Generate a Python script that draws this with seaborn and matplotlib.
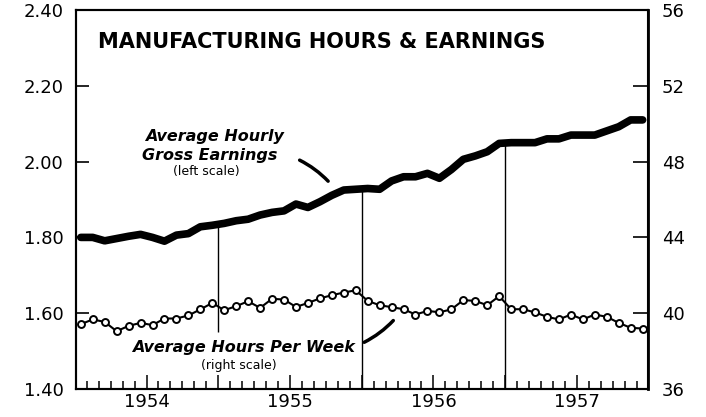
import numpy as np
import pandas as pd
import matplotlib
matplotlib.use('Agg')
import matplotlib.pyplot as plt
import seaborn as sns

sns.set_style('ticks', {'axes.edgecolor': 'black', 'text.color': 'black',
                        'xtick.color': 'black', 'ytick.color': 'black',
                        'axes.labelcolor': 'black'})
plt.rcParams['font.family'] = ['DejaVu Sans']

# monthly data, Jan 1954 - Dec 1957
years = ['1954', '1955', '1956', '1957']
month_idx = np.arange(48)

# average hourly gross earnings, dollars (left scale)
earnings = [1.800, 1.800, 1.791, 1.797, 1.803, 1.808, 1.800, 1.790, 1.806, 1.810, 1.828, 1.832,
            1.837, 1.844, 1.848, 1.859, 1.866, 1.870, 1.888, 1.879, 1.894, 1.911, 1.925, 1.927,
            1.929, 1.927, 1.949, 1.960, 1.960, 1.969, 1.956, 1.979, 2.006, 2.015, 2.026, 2.048,
            2.050, 2.050, 2.050, 2.060, 2.060, 2.070, 2.070, 2.070, 2.081, 2.092, 2.110, 2.110]

# average hours per week (right scale)
hours = [39.42, 39.67, 39.54, 39.05, 39.33, 39.49, 39.37, 39.72, 39.72, 39.88, 40.20, 40.54,
         40.16, 40.37, 40.63, 40.28, 40.76, 40.72, 40.33, 40.54, 40.78, 40.95, 41.09, 41.21,
         40.65, 40.42, 40.32, 40.21, 39.93, 40.12, 40.05, 40.20, 40.69, 40.65, 40.42, 40.90,
         40.21, 40.21, 40.04, 39.81, 39.67, 39.93, 39.67, 39.93, 39.81, 39.49, 39.23, 39.19]

left_ticks = [1.40, 1.60, 1.80, 2.00, 2.20, 2.40]
right_ticks = [36, 40, 44, 48, 52, 56]

df = pd.DataFrame({'month': month_idx, 'earnings': earnings, 'hours': hours})

fig = plt.figure(figsize=(7.06, 4.17), dpi=100)
ax = fig.add_axes([76 / 706, 28 / 417, 572 / 706, 379 / 417])
ax2 = ax.twinx()

sns.lineplot(data=df, x='month', y='earnings', ax=ax, color='black', lw=5.5,
             solid_capstyle='round')
sns.lineplot(data=df, x='month', y='hours', ax=ax2, color='black', lw=1.5,
             marker='o', markersize=5, markerfacecolor='white',
             markeredgecolor='black', markeredgewidth=1.4)

ax.set_xlim(-0.4, 47.45)
ax.set_ylim(1.40, 2.40)
ax2.set_ylim(36, 56)

# vertical guide lines at year boundaries
bounds = [11.5, 23.5, 35.5]
tops = [(earnings[int(b)] + earnings[int(b) + 1]) / 2 for b in bounds]
ax.vlines(bounds, [1.55, 1.40, 1.40], tops, color='black', lw=1)

# x axis: month ticks, year labels at mid-year
centers = [5.5, 17.5, 29.5, 41.5]
ax.set_xticks(centers + bounds, labels=years + ['', '', ''])
ax.set_xticks(np.arange(0.5, 47, 1), minor=True)
ax.tick_params(axis='x', which='major', direction='in', length=10, width=1.1,
               pad=3, labelsize=13)
ax.tick_params(axis='x', which='minor', direction='in', length=6, width=1.1)

ax.set_yticks(left_ticks, labels=['%.2f' % v for v in left_ticks])
ax2.set_yticks(right_ticks, labels=[str(v) for v in right_ticks])
ax.tick_params(axis='y', direction='in', length=9.5, width=1.2, pad=9, labelsize=13)
ax2.tick_params(axis='y', direction='in', length=11, width=1.2, pad=10, labelsize=13)

for a in (ax, ax2):
    a.set_xlabel('')
    a.set_ylabel('')
    for s in a.spines.values():
        s.set_linewidth(1.5)
ax2.spines['right'].set_linewidth(2)

ax.text(1.45, 2.316, 'MANUFACTURING HOURS & EARNINGS', fontsize=15,
        fontweight='bold', ha='left', va='center')

ax.text(11.2, 2.065, 'Average Hourly', fontsize=11.5, fontweight='bold',
        fontstyle='italic', ha='center', va='center')
ax.text(10.8, 2.017, 'Gross Earnings', fontsize=11.5, fontweight='bold',
        fontstyle='italic', ha='center', va='center')
ax.text(10.5, 1.973, '(left scale)', fontsize=9, ha='center', va='center')

ax.text(13.65, 1.510, 'Average Hours Per Week', fontsize=11.5, fontweight='bold',
        fontstyle='italic', ha='center', va='center')
ax.text(13.25, 1.463, '(right scale)', fontsize=9, ha='center', va='center')

ax.annotate('', xy=(20.85, 1.943), xytext=(18.1, 2.007),
            arrowprops=dict(arrowstyle='-', lw=2.5, color='black',
                            connectionstyle='arc3,rad=-0.1'))
ax.annotate('', xy=(26.3, 1.586), xytext=(23.5, 1.520),
            arrowprops=dict(arrowstyle='-', lw=2.5, color='black',
                            connectionstyle='arc3,rad=0.1'))

fig.savefig('out.png', dpi=100)
